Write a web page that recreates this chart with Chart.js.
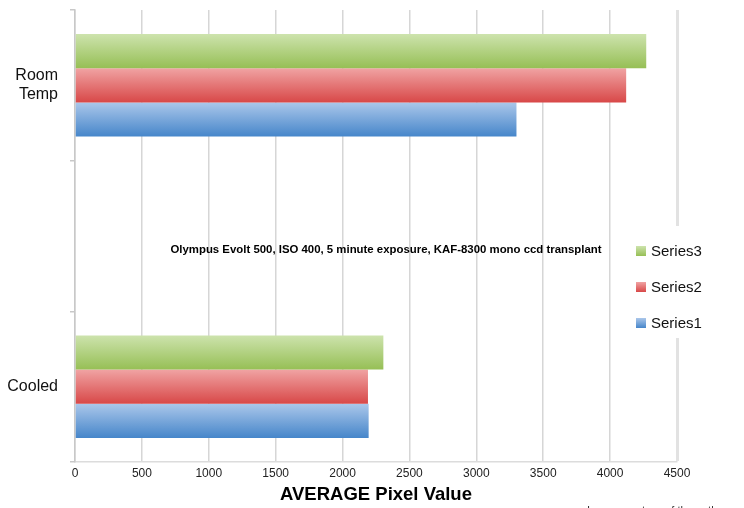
<!DOCTYPE html>
<html>
<head>
<meta charset="utf-8">
<script src="https://cdn.jsdelivr.net/npm/chart.js@4/dist/chart.umd.min.js"></script>
<style>
  html, body { margin: 0; padding: 0; background: #fff; }
  #wrap { width: 744px; height: 508px; position: relative; }
</style>
</head>
<body>
<div id="wrap"><canvas id="c" width="744" height="508"></canvas></div>
<script>
// Category rows (the middle row is an empty spacer that carries the caption)
const categories = [['Room', 'Temp'], '', 'Cooled'];
// Average pixel values per series
const series1 = [3300, null, 2195];
const series2 = [4120, null, 2190];
const series3 = [4270, null, 2305];
// Value-axis ticks
const xTicks = [0, 500, 1000, 1500, 2000, 2500, 3000, 3500, 4000, 4500];

const caption = 'Olympus Evolt 500, ISO 400, 5 minute exposure, KAF-8300 mono ccd transplant';
const credit = 'Image courtesy of the author';
const FONT = '"Liberation Sans", Arial, Helvetica, sans-serif';
const CAT_PCT = 0.68;

// Vertical top-to-bottom gradient for each bar, worked out from the category scale
function barGradient(stops) {
  return (c) => {
    const chart = c.chart;
    const y = chart.scales.y;
    if (!y || c.type !== 'data' || !isFinite(y.top)) return stops[1];
    const n = chart.data.datasets.length;
    const band = (y.bottom - y.top) / chart.data.labels.length;
    const thick = band * CAT_PCT / n;
    const top = y.getPixelForValue(c.dataIndex) - band * CAT_PCT / 2 + c.datasetIndex * thick;
    const g = chart.ctx.createLinearGradient(0, top, 0, top + thick);
    g.addColorStop(0, stops[0]);
    g.addColorStop(1, stops[1]);
    return g;
  };
}

const GREEN = ['#cde3ad', '#96bf55'];
const RED = ['#f0a3a3', '#d84848'];
const BLUE = ['#abc7ea', '#4686ca'];

// Caption across the middle, floating legend and credit line
const extras = {
  id: 'extras',
  afterDraw(chart) {
    const ctx = chart.ctx;
    const area = chart.chartArea;
    ctx.save();
    ctx.fillStyle = '#000';
    ctx.font = 'bold 11.4px ' + FONT;
    ctx.textAlign = 'center';
    ctx.textBaseline = 'middle';
    ctx.fillText(caption, (area.left + area.right) / 2 + 10, 250);

    // legend panel sits over the right edge of the plot
    ctx.fillStyle = '#fff';
    ctx.fillRect(628, 226, 116, 112);
    const sets = chart.data.datasets;
    const rows = [251, 287, 323];
    ctx.font = '15px ' + FONT;
    ctx.textAlign = 'left';
    sets.forEach((ds, i) => {
      const yc = rows[i];
      const g = ctx.createLinearGradient(0, yc - 5, 0, yc + 5);
      g.addColorStop(0, ds.legendColors[0]);
      g.addColorStop(1, ds.legendColors[1]);
      ctx.fillStyle = g;
      ctx.fillRect(636, yc - 5, 10, 10);
      ctx.fillStyle = '#111';
      ctx.fillText(ds.label, 651, yc + 1);
    });

    ctx.fillStyle = '#333';
    ctx.font = '11px ' + FONT;
    ctx.textBaseline = 'top';
    ctx.fillText(credit, 587, 505);
    ctx.restore();
  }
};

new Chart(document.getElementById('c'), {
  type: 'bar',
  data: {
    labels: categories,
    datasets: [
      { label: 'Series3', data: series3, backgroundColor: barGradient(GREEN), legendColors: GREEN },
      { label: 'Series2', data: series2, backgroundColor: barGradient(RED), legendColors: RED },
      { label: 'Series1', data: series1, backgroundColor: barGradient(BLUE), legendColors: BLUE }
    ]
  },
  options: {
    indexAxis: 'y',
    responsive: false,
    animation: false,
    devicePixelRatio: 1,
    layout: { padding: { top: 10, right: 67, left: 0, bottom: 0 } },
    datasets: { bar: { barPercentage: 1, categoryPercentage: CAT_PCT, borderWidth: 0 } },
    plugins: {
      legend: { display: false },
      tooltip: { enabled: false },
      title: { display: false }
    },
    scales: {
      x: {
        type: 'linear',
        min: 0,
        max: 4500,
        afterBuildTicks: (s) => { s.ticks = xTicks.map(v => ({ value: v })); },
        afterFit: (s) => { s.height = 46; s.paddingLeft = 0; s.paddingRight = 0; },
        grid: {
          color: (c) => c.index === xTicks.length - 1 ? '#e2e2e2' : '#d6d6d6',
          lineWidth: (c) => c.index === xTicks.length - 1 ? 3 : 1.5,
          drawTicks: false
        },
        border: { display: true, color: '#dcdcdc', width: 1.5 },
        ticks: {
          color: '#222',
          font: { family: FONT, size: 12 },
          padding: 4,
          maxRotation: 0,
          autoSkip: false,
          callback: (v) => String(v)
        },
        title: {
          display: true,
          text: 'AVERAGE Pixel Value',
          color: '#000',
          font: { family: FONT, size: 18.5, weight: 'bold' },
          padding: { top: 0, bottom: 2 }
        }
      },
      y: {
        type: 'category',
        offset: true,
        afterFit: (s) => { s.width = 75; s.paddingTop = 0; s.paddingBottom = 0; },
        grid: {
          offset: true,
          drawOnChartArea: false,
          drawTicks: true,
          tickLength: 5,
          color: '#c8c8c8',
          lineWidth: 1.5
        },
        border: { display: true, color: '#c8c8c8', width: 1.5 },
        ticks: {
          color: '#111',
          font: { family: FONT, size: 16, lineHeight: 1.2 },
          padding: 12,
          autoSkip: false
        }
      }
    }
  },
  plugins: [extras]
});
</script>
</body>
</html>
